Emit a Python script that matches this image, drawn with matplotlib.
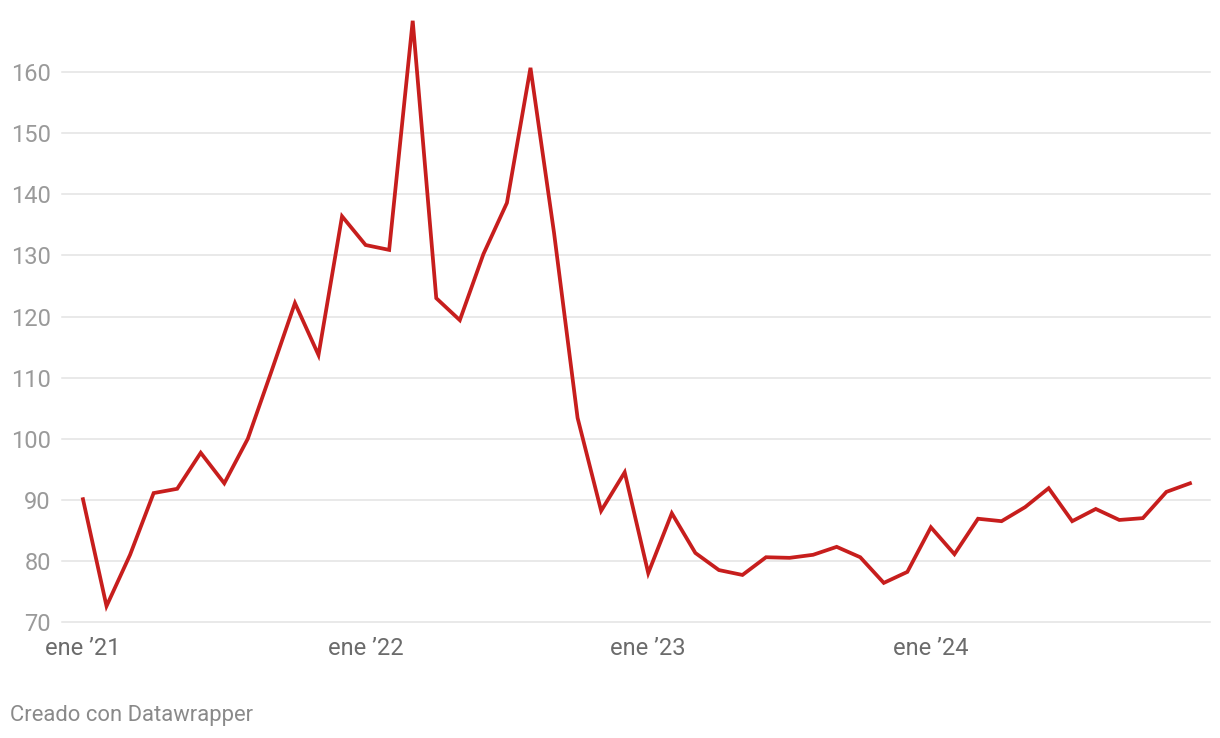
import matplotlib
matplotlib.use("Agg")
import matplotlib.pyplot as plt
import numpy as np

months = list(range(48))  # ene 2021 .. dic 2024
values = [90.1, 72.6, 81.0, 91.1, 91.8, 97.7, 92.7, 100.0, 111.0, 122.2, 113.7, 136.4,
          131.7, 130.9, 168.4, 123.0, 119.4, 130.2, 138.6, 160.7, 133.7, 103.4, 88.2, 94.5,
          78.0, 87.8, 81.3, 78.5, 77.7, 80.6, 80.5, 81.0, 82.3, 80.6, 76.4, 78.2,
          85.5, 81.1, 86.9, 86.5, 88.8, 91.9, 86.5, 88.5, 86.7, 87.0, 91.3, 92.7]
xtick_pos = [0, 12, 24, 36]
xtick_labels = ["ene \u201921", "ene \u201922", "ene \u201923", "ene \u201924"]
yticks = [70, 80, 90, 100, 110, 120, 130, 140, 150, 160]

plt.rcParams['font.family'] = ['Roboto', 'DejaVu Sans']

W, H = 1220, 738
fig = plt.figure(figsize=(W / 100, H / 100), dpi=100)
left, right, top, bottom = 62, 1210, 11, 622
ax = fig.add_axes([left / W, 1 - bottom / H, (right - left) / W, (bottom - top) / H])

ax.plot(months, values, color="#c71e1d", lw=2.7, solid_joinstyle="miter", clip_on=False, zorder=3)

ax.set_xlim(-0.89, 47.85)
ax.set_ylim(70, 170)
ax.set_yticks(yticks)
ax.set_yticklabels([str(v) for v in yticks])
ax.set_xticks(xtick_pos)
ax.set_xticklabels(xtick_labels)

for v in yticks:
    ax.axhline(v, color="#e3e3e3", lw=1.1, zorder=1, clip_on=False)

for s in ax.spines.values():
    s.set_visible(False)
ax.tick_params(axis="y", length=0, pad=8, labelsize=17, labelcolor="#9a9a9a")
ax.tick_params(axis="x", length=0, pad=11, labelsize=17, labelcolor="#6b6b6b")

fig.text(10 / W, 1 - 716 / H, "Creado con Datawrapper", fontsize=15.8, color="#8a8a8a",
         ha="left", va="center")

fig.savefig("out.png", dpi=100, facecolor="white")
